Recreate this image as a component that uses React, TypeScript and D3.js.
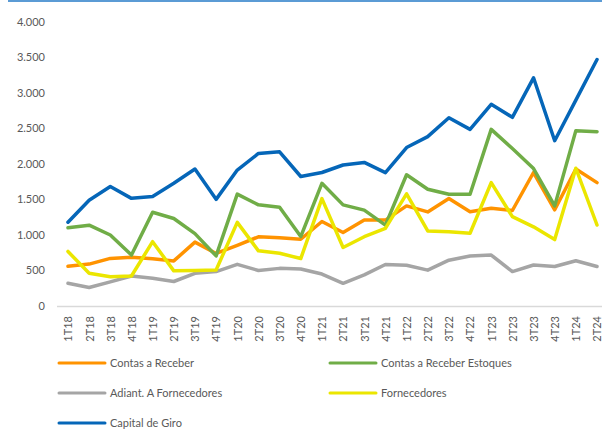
import React from "react";
import * as d3 from "d3";

const categories = [
  "1T18", "2T18", "3T18", "4T18",
  "1T19", "2T19", "3T19", "4T19",
  "1T20", "2T20", "3T20", "4T20",
  "1T21", "2T21", "3T21", "4T21",
  "1T22", "2T22", "3T22", "4T22",
  "1T23", "2T23", "3T23", "4T23",
  "1T24", "2T24",
];

const contasReceber = [560, 590, 670, 685, 665, 635, 900, 740, 855, 975, 962, 940, 1190, 1035, 1210, 1210, 1410, 1325, 1515, 1328, 1376, 1345, 1880, 1355, 1930, 1738];
const contasEstoques = [1102, 1138, 1000, 718, 1320, 1232, 1020, 706, 1575, 1425, 1392, 978, 1728, 1424, 1350, 1140, 1848, 1645, 1573, 1573, 2488, 2218, 1936, 1410, 2470, 2455];
const adiantFornecedores = [320, 260, 340, 422, 390, 345, 460, 485, 587, 500, 530, 522, 450, 320, 438, 585, 575, 505, 645, 704, 718, 485, 577, 556, 638, 556];
const fornecedores = [768, 460, 413, 423, 906, 495, 500, 507, 1178, 777, 742, 668, 1512, 824, 976, 1094, 1580, 1058, 1045, 1025, 1737, 1258, 1115, 935, 1940, 1141];
const capitalGiro = [1180, 1490, 1683, 1516, 1542, 1728, 1930, 1502, 1915, 2148, 2172, 1824, 1880, 1986, 2022, 1878, 2232, 2385, 2652, 2488, 2840, 2657, 3214, 2328, 2900, 3472];

const yTicks = [0, 500, 1000, 1500, 2000, 2500, 3000, 3500, 4000];

const seriesNames = [
  "Contas a Receber",
  "Contas a Receber Estoques",
  "Adiant. A Fornecedores",
  "Fornecedores",
  "Capital de Giro",
];
const seriesValues = [contasReceber, contasEstoques, adiantFornecedores, fornecedores, capitalGiro];
const seriesColors = ["#ff9300", "#70ad47", "#a5a5a5", "#ebe600", "#0566b8"];

const W = 602;
const H = 430;
const FONT = "Lato, 'Open Sans', sans-serif";
const TEXT = "#595959";

const fmt = (v: number) => d3.format(",")(v).replace(/,/g, ".");

export default function App() {
  const x = d3.scalePoint<string>().domain(categories).range([57.4, 607.6]).padding(0.5);
  const y = d3.scaleLinear().domain([0, 4000]).range([306, 22]);

  const line = (vals: number[]) =>
    d3
      .line<number>()
      .x((_, i) => x(categories[i]) as number)
      .y((v) => y(v))(vals) as string;

  const legendPos = [
    { lx: 59, ty: 363 },
    { lx: 330, ty: 363 },
    { lx: 59, ty: 393 },
    { lx: 330, ty: 393 },
    { lx: 59, ty: 423 },
  ];

  return (
    <div style={{ position: "absolute", left: 0, top: 0 }}>
      <svg width={W} height={H} style={{ display: "block", background: "#fff" }}>
        <rect x={8} y={0} width={W - 8} height={2} fill="#5b9bd5" />
        {yTicks.map((t) => (
          <text
            key={t}
            x={45}
            y={y(t)}
            dy="0.35em"
            textAnchor="end"
            fontFamily={FONT}
            fontSize={11}
            fill={TEXT}
          >
            {fmt(t)}
          </text>
        ))}
        <line x1={57} x2={W} y1={306.5} y2={306.5} stroke="#d9d9d9" strokeWidth={1.5} />
        {categories.map((c) => (
          <text
            key={c}
            transform={`translate(${(x(c) as number) + 0.5},316) rotate(-90)`}
            dy="0.35em"
            textAnchor="end"
            fontFamily={FONT}
            fontSize={11}
            fill={TEXT}
          >
            {c}
          </text>
        ))}
        {seriesValues.map((vals, i) => (
          <path
            key={seriesNames[i]}
            d={line(vals)}
            fill="none"
            stroke={seriesColors[i]}
            strokeWidth={3.5}
            strokeLinejoin="round"
            strokeLinecap="round"
          />
        ))}
        {seriesNames.map((n, i) => (
          <g key={n}>
            <line
              x1={legendPos[i].lx}
              x2={legendPos[i].lx + 46}
              y1={legendPos[i].ty}
              y2={legendPos[i].ty}
              stroke={seriesColors[i]}
              strokeWidth={3}
              strokeLinecap="round"
            />
            <text
              x={legendPos[i].lx + 51}
              y={legendPos[i].ty}
              dy="0.35em"
              fontFamily={FONT}
              fontSize={11}
              fill={TEXT}
            >
              {n}
            </text>
          </g>
        ))}
      </svg>
    </div>
  );
}
